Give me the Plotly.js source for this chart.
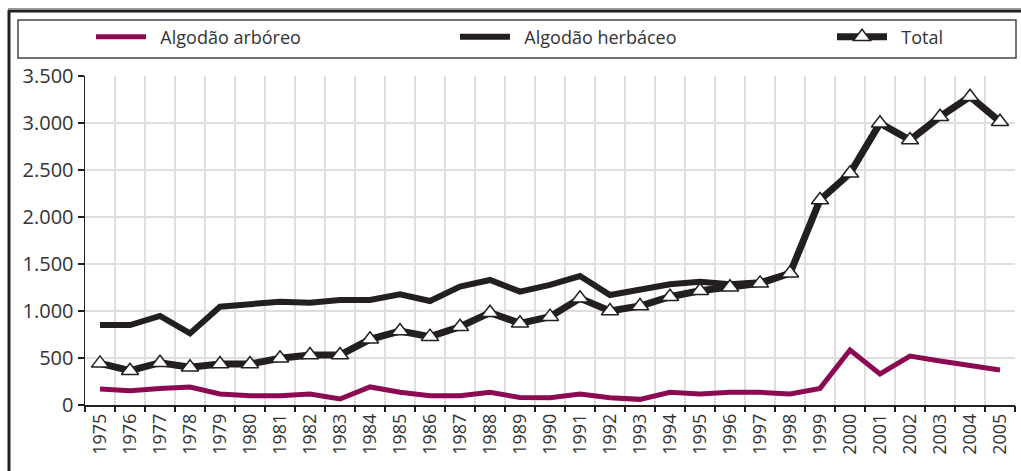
<!DOCTYPE html>
<html>
<head>
<meta charset="utf-8">
<script src="https://cdn.plot.ly/plotly-3.0.1.min.js"></script>
<style>html,body{margin:0;padding:0;background:#fff;}#chart{width:1021px;height:471px;}</style>
</head>
<body>
<div id="chart"></div>
<script>
const years = ['1975','1976','1977','1978','1979','1980','1981','1982','1983','1984','1985','1986','1987','1988','1989','1990','1991','1992','1993','1994','1995','1996','1997','1998','1999','2000','2001','2002','2003','2004','2005'];
const arboreo = [170,152,175,192,117,99,99,117,64,192,135,99,99,135,80,78,117,78,60,135,117,135,135,117,177,585,330,521,468,415,372];
const herbaceo = [851,851,947,762,1046,1071,1099,1088,1117,1117,1177,1106,1259,1330,1206,1277,1372,1170,1223,1284,1312,1284,1305,1401,2181,2465,2997,2819,3067,3280,3014];
const total = [443,365,450,401,436,436,497,532,532,699,787,727,833,982,869,940,1135,1000,1053,1152,1216,1252,1294,1401,2181,2465,2997,2819,3067,3280,3014];
const yTicks = [0,500,1000,1500,2000,2500,3000,3500];
const yTickText = ['0','500','1.000','1.500','2.000','2.500','3.000','3.500'];
const names = ['Algodão arbóreo','Algodão herbáceo','Total'];

const xs = years.map((_, i) => i);
const FONT = 'Open Sans, Noto Sans, sans-serif';
const px2x = p => (p - 85) / 930;
const px2y = p => (405 - p) / 329;
const pad = '\u00a0\u00a0';

const traces = [
  {x: [0], y: [0], xaxis: 'x2', yaxis: 'y', mode: 'markers', marker: {opacity: 0}, showlegend: false, hoverinfo: 'skip'},
  {x: xs, y: arboreo, name: pad + names[0], type: 'scatter', mode: 'lines', legend: 'legend',
   line: {color: '#8c0a52', width: 5}},
  {x: xs, y: herbaceo, name: pad + names[1], type: 'scatter', mode: 'lines', legend: 'legend2',
   line: {color: '#231f20', width: 6}},
  {x: xs, y: total, name: pad + names[2], type: 'scatter', mode: 'lines+markers', legend: 'legend3',
   line: {color: '#231f20', width: 7},
   marker: {symbol: 'triangle-up', size: 15, color: '#ffffff', line: {color: '#231f20', width: 1.5}}}
];

const legBase = {orientation: 'h', xanchor: 'left', y: px2y(37), yanchor: 'middle',
  bgcolor: 'rgba(0,0,0,0)', borderwidth: 0, itemwidth: 50,
  font: {family: FONT, size: 18, color: '#333333'}};

const layout = {
  width: 1021, height: 471,
  margin: {l: 85, r: 6, t: 76, b: 66},
  paper_bgcolor: '#ffffff', plot_bgcolor: '#ffffff',
  font: {family: FONT, size: 17, color: '#333333'},
  showlegend: true,
  legend: Object.assign({}, legBase, {x: px2x(91)}),
  legend2: Object.assign({}, legBase, {x: px2x(455)}),
  legend3: Object.assign({}, legBase, {x: px2x(832)}),
  xaxis: {range: [-0.5, 30.5], tickmode: 'array', tickvals: xs, ticktext: years,
          tickangle: -90, showgrid: false, zeroline: false,
          showline: true, linecolor: '#231f20', linewidth: 1.5,
          ticks: '', tickfont: {family: FONT, size: 18, color: '#333333'}, fixedrange: true},
  xaxis2: {range: [-0.5, 30.5], overlaying: 'x', tickmode: 'array',
           tickvals: xs.map(v => v - 0.5).concat([30.5]),
           showticklabels: false, ticks: 'outside', ticklen: 6, tickcolor: '#231f20', tickwidth: 1.2,
           showgrid: true, gridcolor: '#dedede', gridwidth: 2, zeroline: false, showline: false},
  yaxis: {range: [0, 3500], tickmode: 'array', tickvals: yTicks, ticktext: yTickText,
          showgrid: true, gridcolor: '#dedede', gridwidth: 2, zeroline: false,
          showline: true, linecolor: '#231f20', linewidth: 1.5,
          ticks: 'outside', ticklen: 6, tickcolor: '#231f20', tickwidth: 1.2,
          tickfont: {family: FONT, size: 20, color: '#333333'}, fixedrange: true},
  shapes: [
    {type: 'line', xref: 'paper', yref: 'paper', x0: px2x(8), x1: px2x(1021), y0: px2y(8.5), y1: px2y(8.5),
     line: {color: '#9a9a9a', width: 1}},
    {type: 'line', xref: 'paper', yref: 'paper', x0: px2x(8), x1: px2x(1021), y0: px2y(11), y1: px2y(11),
     line: {color: '#231f20', width: 3}},
    {type: 'line', xref: 'paper', yref: 'paper', x0: px2x(9), x1: px2x(9), y0: px2y(10), y1: px2y(475),
     line: {color: '#231f20', width: 3}},
    {type: 'rect', xref: 'paper', yref: 'paper', x0: px2x(18), x1: px2x(1016), y0: px2y(20), y1: px2y(58),
     line: {color: '#444444', width: 1.5}, fillcolor: 'rgba(0,0,0,0)'}
  ]
};

Plotly.newPlot('chart', traces, layout, {displayModeBar: false, staticPlot: true});
</script>
</body>
</html>
